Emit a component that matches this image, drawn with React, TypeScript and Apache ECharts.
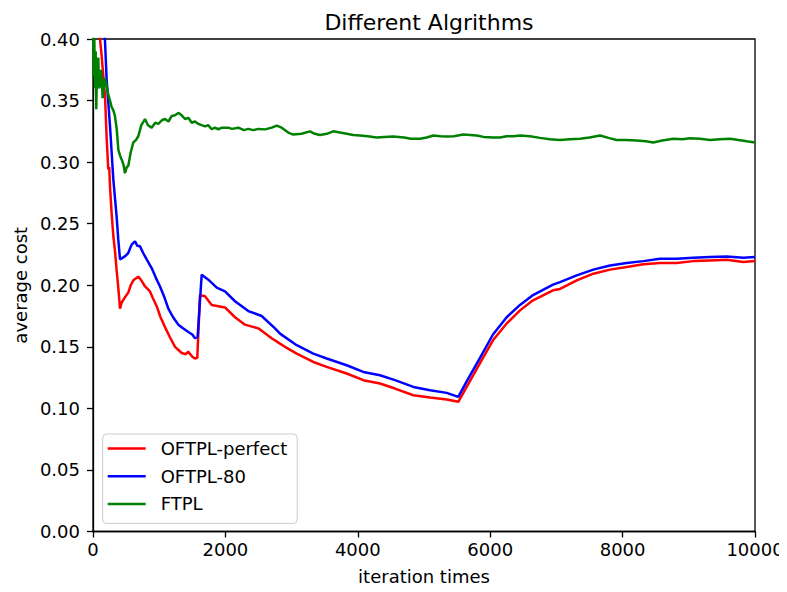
import React, { useEffect, useRef } from "react";
import * as echarts from "echarts";

// Iteration indices and average cost for each algorithm
const perfectIter = [
  0, 60, 106, 131, 156, 181, 206, 231, 245, 257, 282, 307, 332, 357, 382, 408, 434, 480, 533, 570,
  609, 684, 730, 786, 861, 900, 962, 1020, 1088, 1160, 1239, 1340, 1400, 1440, 1500, 1541, 1575,
  1616, 1692, 1793, 1893, 1994, 2145, 2296, 2497, 2699, 2825, 2900, 3077, 3328, 3530, 3832, 4083,
  4335, 4562, 4839, 5091, 5343, 5518, 5645, 5846, 6042, 6249, 6450, 6647, 6949, 7055, 7307, 7558,
  7810, 8062, 8313, 8565, 8817, 9068, 9320, 9572, 9824, 10000,
];
const perfectCost = [
  0.6, 0.47, 0.4, 0.386, 0.37, 0.354, 0.32, 0.294, 0.296, 0.28, 0.258, 0.24, 0.228, 0.212, 0.198,
  0.181, 0.186, 0.19, 0.194, 0.2, 0.204, 0.207, 0.204, 0.199, 0.195, 0.19, 0.183, 0.174, 0.166,
  0.158, 0.15, 0.145, 0.144, 0.146, 0.142, 0.1405, 0.141, 0.192, 0.191, 0.184, 0.183, 0.182, 0.174,
  0.168, 0.165, 0.157, 0.1526, 0.15, 0.1445, 0.1377, 0.1337, 0.1283, 0.1229, 0.1202, 0.1161,
  0.1107, 0.1088, 0.1072, 0.1053, 0.1174, 0.1367, 0.1553, 0.169, 0.1796, 0.1878, 0.1959, 0.197,
  0.204, 0.2094, 0.2127, 0.2148, 0.217, 0.218, 0.218, 0.2196, 0.2202, 0.2208, 0.2188, 0.2196,
];

const oftpl80Iter = [
  0, 100, 150, 180, 206, 257, 307, 358, 382, 408, 440, 483, 530, 584, 634, 670, 710, 760, 811, 886,
  950, 1012, 1080, 1138, 1210, 1289, 1360, 1440, 1500, 1541, 1580, 1642, 1742, 1869, 1994, 2145,
  2346, 2548, 2749, 2825, 3077, 3328, 3530, 3832, 4083, 4335, 4562, 4839, 5091, 5343, 5518, 5645,
  5846, 6042, 6249, 6450, 6647, 6949, 7055, 7307, 7558, 7810, 8062, 8313, 8565, 8817, 9068, 9320,
  9572, 9824, 10000,
];
const oftpl80Cost = [
  0.65, 0.48, 0.42, 0.4, 0.367, 0.329, 0.286, 0.255, 0.237, 0.221, 0.222, 0.2235, 0.226, 0.233,
  0.2357, 0.232, 0.2316, 0.226, 0.221, 0.214, 0.206, 0.199, 0.19, 0.181, 0.174, 0.168, 0.165,
  0.162, 0.16, 0.157, 0.158, 0.2086, 0.2045, 0.198, 0.195, 0.187, 0.179, 0.175, 0.165, 0.1607,
  0.1513, 0.1445, 0.1405, 0.135, 0.1296, 0.1269, 0.1229, 0.1174, 0.1148, 0.1126, 0.1093, 0.122,
  0.141, 0.16, 0.174, 0.184, 0.192, 0.2005, 0.2026, 0.208, 0.2127, 0.216, 0.218, 0.2196, 0.2216,
  0.2216, 0.2224, 0.2229, 0.2234, 0.2224, 0.2229,
];

const ftplIter = [
  0, 10, 20, 30, 40, 50, 60, 70, 80, 90, 106, 120, 131, 145, 156, 180, 207, 230, 257, 280, 307,
  330, 358, 383, 410, 434, 460, 483, 510, 533, 570, 609, 650, 684, 730, 786, 830, 886, 940, 987,
  1040, 1088, 1140, 1189, 1240, 1289, 1340, 1390, 1440, 1491, 1540, 1591, 1640, 1692, 1740, 1793,
  1840, 1893, 1950, 2044, 2100, 2195, 2280, 2346, 2420, 2497, 2600, 2700, 2775, 2850, 2950, 3026,
  3150, 3278, 3350, 3429, 3530, 3630, 3730, 3832, 3930, 4033, 4150, 4285, 4400, 4536, 4700, 4800,
  4940, 5041, 5141, 5250, 5343, 5450, 5594, 5700, 5796, 5900, 6047, 6148, 6250, 6349, 6450, 6600,
  6752, 6900, 7055, 7200, 7357, 7500, 7659, 7800, 7911, 8050, 8213, 8350, 8464, 8600, 8766, 8900,
  9018, 9170, 9320, 9470, 9622, 9750, 9874, 10000,
];
const ftplCost = [
  0.42, 0.37, 0.4, 0.36, 0.39, 0.343, 0.38, 0.365, 0.385, 0.36, 0.362, 0.375, 0.37, 0.352, 0.356,
  0.368, 0.362, 0.355, 0.35, 0.345, 0.342, 0.338, 0.327, 0.31, 0.305, 0.302, 0.298, 0.291, 0.296,
  0.297, 0.308, 0.316, 0.318, 0.321, 0.33, 0.335, 0.33, 0.328, 0.332, 0.331, 0.334, 0.335, 0.333,
  0.3375, 0.338, 0.34, 0.338, 0.335, 0.336, 0.332, 0.333, 0.331, 0.33, 0.329, 0.33, 0.3267, 0.328,
  0.3267, 0.328, 0.328, 0.327, 0.328, 0.326, 0.327, 0.326, 0.327, 0.3266, 0.328, 0.3297, 0.328,
  0.324, 0.3224, 0.323, 0.325, 0.323, 0.322, 0.323, 0.325, 0.324, 0.323, 0.322, 0.3216, 0.321,
  0.32, 0.3205, 0.3208, 0.32, 0.319, 0.319, 0.32, 0.3216, 0.321, 0.3208, 0.321, 0.3224, 0.322,
  0.3216, 0.3205, 0.32, 0.32, 0.321, 0.321, 0.3216, 0.321, 0.3197, 0.3185, 0.318, 0.3185, 0.319,
  0.32, 0.3216, 0.3195, 0.318, 0.318, 0.3175, 0.317, 0.316, 0.3175, 0.319, 0.3185, 0.3194, 0.319,
  0.318, 0.3185, 0.319, 0.318, 0.317, 0.316,
];

const seriesNames = ["OFTPL-perfect", "OFTPL-80", "FTPL"];
const seriesColors = ["#ff0000", "#0000ff", "#008000"];
const xTicks = [0, 2000, 4000, 6000, 8000, 10000];
const yTicks = [0, 0.05, 0.1, 0.15, 0.2, 0.25, 0.3, 0.35, 0.4];

const FONT = "DejaVu Sans";

function pairs(xs: number[], ys: number[]) {
  return xs.map((x, i) => [x, ys[i]]);
}

export default function App() {
  const ref = useRef<HTMLDivElement>(null);

  useEffect(() => {
    if (!ref.current) return;
    const chart = echarts.init(ref.current, undefined, { renderer: "svg" });
    const data = [
      pairs(perfectIter, perfectCost),
      pairs(oftpl80Iter, oftpl80Cost),
      pairs(ftplIter, ftplCost),
    ];
    chart.setOption({
      animation: false,
      backgroundColor: "#ffffff",
      textStyle: { fontFamily: FONT },
      title: {
        text: "Different Algrithms",
        left: 424,
        top: 6,
        textAlign: "center",
        textStyle: { fontFamily: FONT, fontSize: 22, fontWeight: "normal", color: "#000" },
      },
      grid: {
        left: 93,
        right: 32,
        top: 39,
        bottom: 60.5,
        show: true,
        borderColor: "#000",
        borderWidth: 1.3,
        backgroundColor: "transparent",
      },
      legend: {
        orient: "vertical",
        left: 102.7,
        top: 434,
        data: seriesNames,
        icon: "path://M0,0H38V2.5H0Z M48,0H48.01V2.5H48Z",
        itemWidth: 48,
        itemHeight: 2.5,
        itemGap: 8.7,
        padding: [5, 10, 10, 5],
        backgroundColor: "rgba(255,255,255,0.8)",
        borderColor: "#cccccc",
        borderWidth: 1,
        borderRadius: 4,
        textStyle: { fontFamily: FONT, fontSize: 18, lineHeight: 19, color: "#000" },
      },
      xAxis: {
        type: "value",
        min: xTicks[0],
        max: xTicks[xTicks.length - 1],
        interval: 2000,
        name: "iteration times",
        nameLocation: "middle",
        nameGap: 36,
        nameTextStyle: { fontFamily: FONT, fontSize: 18, color: "#000" },
        axisLine: { show: true, lineStyle: { color: "#000", width: 1.3 } },
        axisTick: { show: true, inside: false, length: 6, lineStyle: { color: "#000", width: 1.3 } },
        axisLabel: {
          margin: 9,
          fontFamily: FONT,
          fontSize: 18,
          color: "#000",
          formatter: (v: number) => String(v),
        },
        splitLine: { show: false },
      },
      yAxis: {
        type: "value",
        min: yTicks[0],
        max: yTicks[yTicks.length - 1],
        interval: 0.05,
        name: "average cost",
        nameLocation: "middle",
        nameGap: 62,
        nameTextStyle: { fontFamily: FONT, fontSize: 18, color: "#000" },
        axisLine: { show: true, lineStyle: { color: "#000", width: 1.3 } },
        axisTick: { show: true, inside: false, length: 6, lineStyle: { color: "#000", width: 1.3 } },
        axisLabel: {
          margin: 13,
          fontFamily: FONT,
          fontSize: 18,
          color: "#000",
          formatter: (v: number) => v.toFixed(2),
        },
        splitLine: { show: false },
      },
      series: seriesNames.map((name, i) => ({
        name,
        type: "line",
        data: data[i],
        showSymbol: false,
        symbol: "none",
        clip: true,
        color: seriesColors[i],
        lineStyle: { color: seriesColors[i], width: 2.5 },
        z: 2 + i,
      })),
    });
    return () => chart.dispose();
  }, []);

  return <div ref={ref} style={{ width: 787, height: 592, margin: -8 }} />;
}
